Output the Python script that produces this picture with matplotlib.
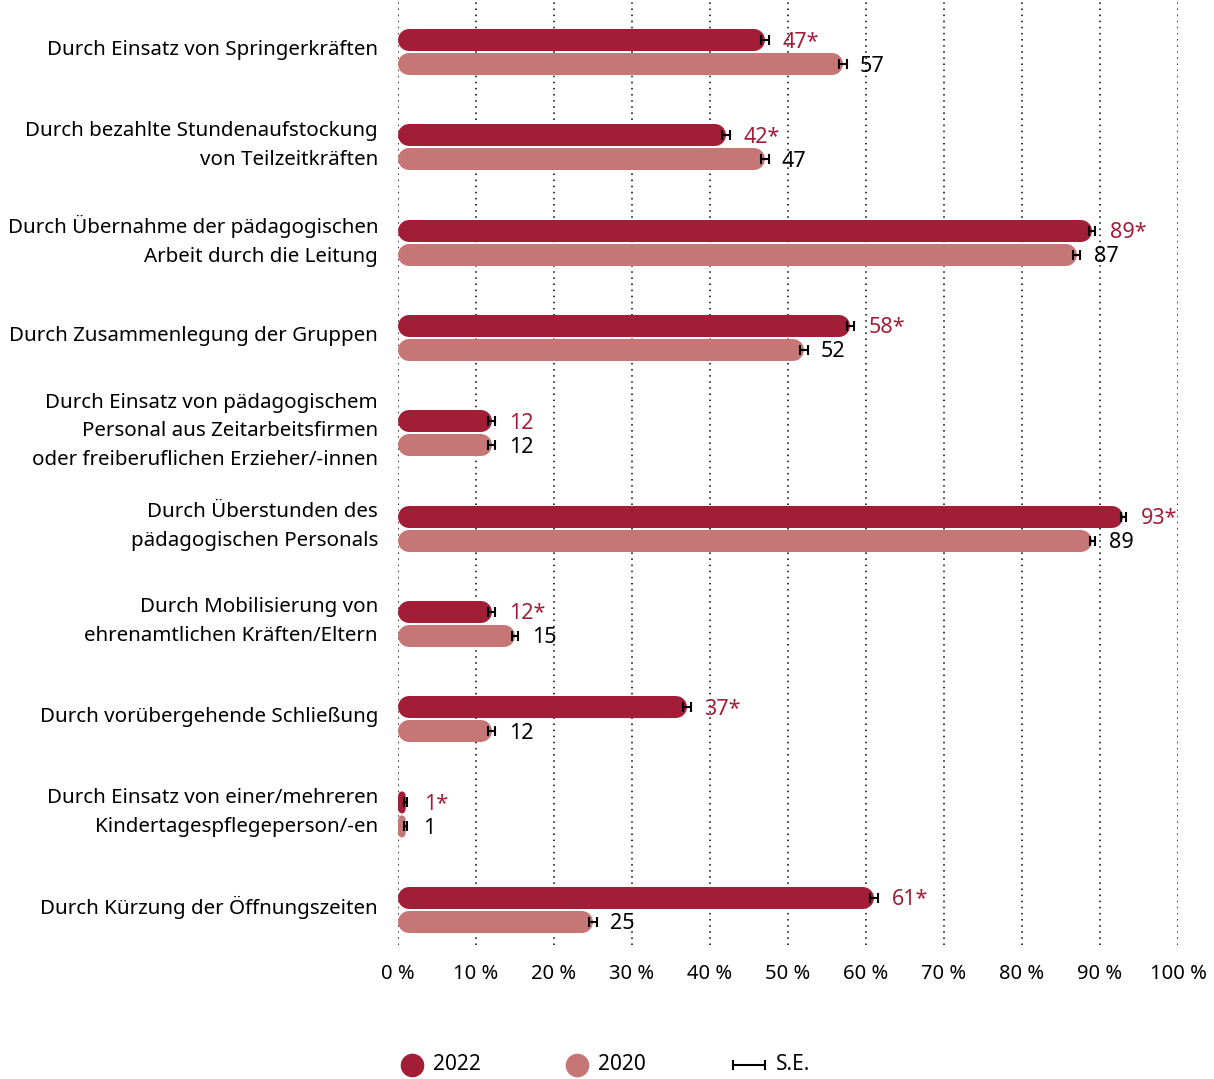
import matplotlib.pyplot as plt
from matplotlib.patches import FancyBboxPatch
from matplotlib.lines import Line2D

plt.rcParams['font.family'] = ['Noto Sans', 'DejaVu Sans']

categories = [
    "Durch Einsatz von Springerkräften",
    "Durch bezahlte Stundenaufstockung\nvon Teilzeitkräften",
    "Durch Übernahme der pädagogischen\nArbeit durch die Leitung",
    "Durch Zusammenlegung der Gruppen",
    "Durch Einsatz von pädagogischem\nPersonal aus Zeitarbeitsfirmen\noder freiberuflichen Erzieher/-innen",
    "Durch Überstunden des\npädagogischen Personals",
    "Durch Mobilisierung von\nehrenamtlichen Kräften/Eltern",
    "Durch vorübergehende Schließung",
    "Durch Einsatz von einer/mehreren\nKindertagespflegeperson/-en",
    "Durch Kürzung der Öffnungszeiten",
]
v2022 = [47, 42, 89, 58, 12, 93, 12, 37, 1, 61]
v2020 = [57, 47, 87, 52, 12, 89, 15, 12, 1, 25]
se2022 = [0.5, 0.5, 0.4, 0.5, 0.4, 0.3, 0.4, 0.5, 0.2, 0.5]
se2020 = [0.5, 0.5, 0.4, 0.5, 0.4, 0.3, 0.4, 0.4, 0.2, 0.5]
signif = [True, True, True, True, False, True, True, True, True, True]
xticks = list(range(0, 101, 10))
xtick_labels = [f"{t} %" for t in xticks]

c2022 = "#A21E37"
c2020 = "#C57675"
txt2022 = "#A21E37"

W, H = 1214, 1079
fig = plt.figure(figsize=(W / 100, H / 100), dpi=100)
ax = fig.add_axes([398 / W, 1 - 945 / H, 780 / W, 945 / H])
ax.set_xlim(0, 100)
ax.set_ylim(9.37, -0.546)

px_x = 100 / 780   # data units per pixel (x)
px_y = 9.916 / 945  # data units per pixel (y)
bar_px = 22
off = 12 * px_y
r = bar_px / 2 * px_x  # cap radius in x data units
lw_pt = bar_px * 72 / 100


def draw_bar(x, yc, color):
    if x > 2 * r:
        # thick line with round caps -> true semicircle ends
        ax.plot([r, x - r], [yc, yc], color=color, linewidth=lw_pt,
                solid_capstyle="round", zorder=2)
    else:
        h = bar_px * px_y
        p = FancyBboxPatch((0, yc - h / 2), x, h,
                           boxstyle=f"round,pad=0,rounding_size={x / 2}",
                           mutation_aspect=px_y / px_x * 1.6,
                           fc=color, ec="none", zorder=2)
        ax.add_patch(p)


for i in range(len(categories)):
    y1 = i - off
    y2 = i + off
    draw_bar(v2022[i], y1, c2022)
    draw_bar(v2020[i], y2, c2020)
    ax.errorbar(v2022[i], y1, xerr=se2022[i], fmt="none", ecolor="black",
                elinewidth=1.5, capsize=3.5, capthick=1.5, zorder=3)
    ax.errorbar(v2020[i], y2, xerr=se2020[i], fmt="none", ecolor="black",
                elinewidth=1.5, capsize=3.5, capthick=1.5, zorder=3)
    lab = f"{v2022[i]}*" if signif[i] else f"{v2022[i]}"
    ax.annotate(lab, xy=(v2022[i] + 2.3, y1), xytext=(0, -2),
                textcoords="offset pixels", color=txt2022, fontsize=15.5,
                va="center", ha="left")
    ax.annotate(f"{v2020[i]}", xy=(v2020[i] + 2.2, y2), xytext=(0, -2),
                textcoords="offset pixels", color="black", fontsize=15.5,
                va="center", ha="left")
    # category label, nudged a bit above the group centre
    ax.annotate(categories[i], xy=(0, i), xycoords=ax.get_yaxis_transform(),
                xytext=(-20, 2), textcoords="offset pixels",
                ha="right", va="center", fontsize=14.8, linespacing=1.58)

ax.set_yticks([])
ax.set_xticks(xticks)
ax.set_xticklabels(xtick_labels, fontsize=14.5)
ax.tick_params(axis="both", length=0)
ax.tick_params(axis="x", pad=14)
ax.grid(axis="x", color="black", linestyle=(0, (1, 3)), linewidth=1.1, zorder=0)
ax.set_axisbelow(True)
for s in ax.spines.values():
    s.set_visible(False)

# legend
ly = 1 - 1065 / H
fig.add_artist(Line2D([412 / W], [ly], marker="o", markersize=16, color=c2022,
                      linestyle="none", transform=fig.transFigure))
fig.text(433 / W, ly, "2022", fontsize=15, va="center", ha="left")
fig.add_artist(Line2D([577 / W], [ly], marker="o", markersize=16, color=c2020,
                      linestyle="none", transform=fig.transFigure))
fig.text(598 / W, ly, "2020", fontsize=15, va="center", ha="left")
fig.add_artist(Line2D([733 / W, 765 / W], [ly, ly], color="black", linewidth=1.5,
                      transform=fig.transFigure))
fig.add_artist(Line2D([733 / W, 733 / W], [ly - 4 / H, ly + 4 / H], color="black",
                      linewidth=1.5, transform=fig.transFigure))
fig.add_artist(Line2D([765 / W, 765 / W], [ly - 4 / H, ly + 4 / H], color="black",
                      linewidth=1.5, transform=fig.transFigure))
fig.text(776 / W, ly, "S.E.", fontsize=15, va="center", ha="left")

fig.savefig("out.png", dpi=100)
